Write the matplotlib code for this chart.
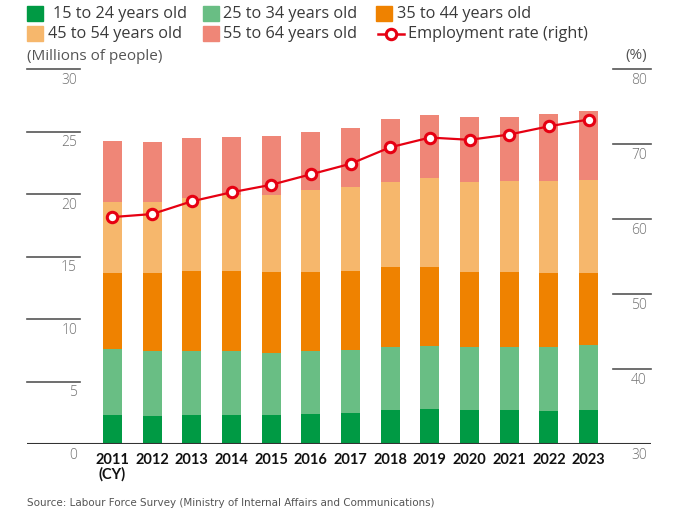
import matplotlib
matplotlib.use("Agg")
import matplotlib.pyplot as plt
import matplotlib.transforms as mtransforms
from matplotlib import font_manager as fm
from matplotlib.patches import Rectangle
from matplotlib.lines import Line2D
import numpy as np

# Data (millions of people, stacked by age group) and employment rate (%)
years = ["2011\n(CY)", "2012", "2013", "2014", "2015", "2016", "2017",
         "2018", "2019", "2020", "2021", "2022", "2023"]
age_15_24 = [2.35, 2.27, 2.35, 2.35, 2.35, 2.43, 2.51, 2.75, 2.83, 2.75, 2.75, 2.67, 2.75]
age_25_34 = [5.27, 5.19, 5.11, 5.11, 4.95, 5.03, 5.05, 5.03, 5.05, 5.03, 5.03, 5.11, 5.19]
age_35_44 = [6.06, 6.22, 6.38, 6.38, 6.46, 6.30, 6.28, 6.38, 6.28, 5.98, 5.98, 5.90, 5.74]
age_45_54 = [5.67, 5.67, 5.85, 6.07, 6.15, 6.55, 6.71, 6.86, 7.18, 7.26, 7.34, 7.42, 7.50]
age_55_64 = [4.95, 4.87, 4.85, 4.71, 4.79, 4.71, 4.79, 5.04, 5.03, 5.19, 5.11, 5.35, 5.51]
emp_rate = [60.3, 60.7, 62.4, 63.6, 64.6, 66.0, 67.4, 69.6, 70.9, 70.6, 71.3, 72.4, 73.3]

series_labels = ["15 to 24 years old", "25 to 34 years old", "35 to 44 years old",
                 "45 to 54 years old", "55 to 64 years old"]
series_colors = ["#009a44", "#69be84", "#ef8200", "#f6b76c", "#ef8677"]
line_color = "#e60012"

left_ticks = [0, 5, 10, 15, 20, 25, 30]
right_ticks = [30, 40, 50, 60, 70, 80]

plt.rcParams.update({"font.family": ["Open Sans", "DejaVu Sans"], "font.size": 10})

W, H = 681, 515
fig = plt.figure(figsize=(W / 100, H / 100), dpi=100)

# axes area in pixels: x 27..651, y 69.3 (top) .. 444.3 (baseline)
ax = fig.add_axes([27 / W, (H - 444.3) / H, 624 / W, 375 / H])
x = np.arange(len(years))
step = 39.67
ax.set_xlim(-85.5 / step, (651 - 112.5) / step)
ax.set_ylim(0, 30)

bottom = np.zeros(len(years))
for vals, col in zip([age_15_24, age_25_34, age_35_44, age_45_54, age_55_64], series_colors):
    ax.bar(x, vals, width=0.48, bottom=bottom, color=col, zorder=2)
    bottom += np.array(vals)

for s in ax.spines.values():
    s.set_visible(False)
ax.set_yticks([])
ax.set_xticks(x)
ax.set_xticklabels(years, fontweight="bold", fontsize=10.5, color="#111111",
                   family=["Lato", "DejaVu Sans"], linespacing=1.0)
ax.tick_params(axis="x", length=0, pad=6)

# baseline
ax.axhline(0, color="#333333", lw=1.5, zorder=3)

ax2 = ax.twinx()
ax2.set_ylim(30, 80)
ax2.set_yticks([])
for s in ax2.spines.values():
    s.set_visible(False)
ax2.plot(x, emp_rate, color=line_color, lw=1.6, marker="o", markersize=7.5,
         markerfacecolor="white", markeredgecolor=line_color, markeredgewidth=2.2, zorder=5)

# tick lines with labels below them
trl = mtransforms.blended_transform_factory(ax.transAxes, ax.transData)
lab_off = mtransforms.offset_copy(trl, fig=fig, x=0, y=-11, units="dots")
for t in left_ticks:
    if t > 0:
        ax.plot([0, 53 / 624], [t, t], transform=trl, color="#555555", lw=1.2, clip_on=False)
    ax.text(50 / 624, t, str(t), transform=lab_off, ha="right", va="center",
            fontsize=10, color="#707070", fontweight="light")

trr = mtransforms.blended_transform_factory(ax2.transAxes, ax2.transData)
lab_off2 = mtransforms.offset_copy(trr, fig=fig, x=0, y=-11, units="dots")
for t in right_ticks:
    if t > 30:
        ax2.plot([586 / 624, 1.0], [t, t], transform=trr, color="#555555", lw=1.2, clip_on=False)
    ax2.text(620 / 624, t, str(t), transform=lab_off2, ha="right", va="center",
             fontsize=10, color="#707070", fontweight="light")

# axis unit labels
fig.text(27 / W, 1 - 56 / H, "(Millions of people)", ha="left", va="center",
         fontsize=11, color="#555555")
fig.text(647 / W, 1 - 56 / H, "(%)", ha="right", va="center", fontsize=11, color="#555555")

# legend (manual layout)
leg_items = [(27, 13.5, 53), (203, 13.5, 223), (376, 13.5, 397),
             (27, 33.5, 48), (203, 33.5, 223)]
for (px, py, tx), lab, col in zip(leg_items, series_labels, series_colors):
    fig.patches.append(Rectangle((px / W, 1 - (py + 7.5) / H), 16 / W, 15 / H,
                                 transform=fig.transFigure, color=col))
    fig.text(tx / W, 1 - py / H, lab, ha="left", va="center", fontsize=11.7, color="#3a3a3a")
leg_line = Line2D([378 / W, 391 / W, 404 / W], [1 - 33.5 / H] * 3, transform=fig.transFigure,
                  color=line_color, lw=1.8, marker="o", markersize=7.5,
                  markerfacecolor="white", markeredgecolor=line_color,
                  markeredgewidth=2.2, markevery=[1])
fig.lines.append(leg_line)
fig.text(408 / W, 1 - 33.5 / H, "Employment rate (right)", ha="left", va="center",
         fontsize=11.7, color="#3a3a3a")

# source note, in a narrow face if one is installed, fitted to the reference width
narrow = [f for f in fm.fontManager.ttflist
          if ("Narrow" in f.name or "Condensed" in f.name
              or f.stretch in ("condensed", "semi-condensed", "extra-condensed"))
          and f.style == "normal" and f.weight in (400, "normal", "regular")]
src_kw = {}
if narrow:
    src_kw["fontproperties"] = fm.FontProperties(fname=narrow[0].fname, size=10)
else:
    src_kw["fontsize"] = 10
    src_kw["family"] = ["Liberation Sans", "DejaVu Sans"]
src = fig.text(27 / W, 1 - 503 / H,
               "Source: Labour Force Survey (Ministry of Internal Affairs and Communications)",
               ha="left", va="center", color="#555555", **src_kw)
renderer = fig.canvas.get_renderer()
wpx = src.get_window_extent(renderer).width
src.set_fontsize(10 * 406 / wpx)

fig.savefig("out.png", dpi=100)
